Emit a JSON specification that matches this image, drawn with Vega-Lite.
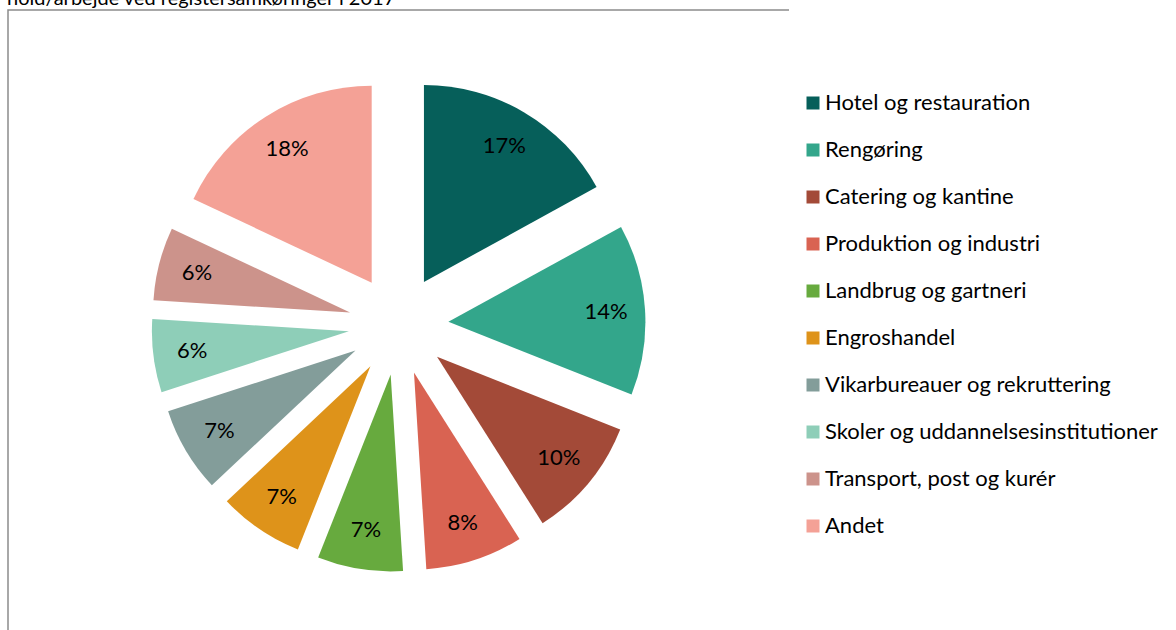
{
  "$schema": "https://vega.github.io/schema/vega-lite/v6.json",
  "width": 781,
  "height": 630,
  "autosize": {"type": "none"},
  "padding": {"left": 8, "top": 10, "right": 387, "bottom": 0},
  "background": "white",
  "view": {"stroke": "#8c8c8c", "strokeWidth": 1.5, "strokeDash": [781, 1411, 700]},
  "title": {
    "text": "hold/arbejde ved registersamkøringer i 2017",
    "anchor": "start",
    "frame": "group",
    "orient": "top",
    "offset": 1,
    "font": "Lato",
    "fontSize": 20,
    "fontWeight": "normal",
    "color": "#000000",
    "dx": -1
  },
  "config": {
    "font": "Lato"
  },
  "data": {
    "values": [
      {"sector": "Hotel og restauration", "share": 0.17, "rank": 1},
      {"sector": "Rengøring", "share": 0.14, "rank": 2},
      {"sector": "Catering og kantine", "share": 0.10, "rank": 3},
      {"sector": "Produktion og industri", "share": 0.08, "rank": 4},
      {"sector": "Landbrug og gartneri", "share": 0.07, "rank": 5},
      {"sector": "Engroshandel", "share": 0.07, "rank": 6},
      {"sector": "Vikarbureauer og rekruttering", "share": 0.07, "rank": 7},
      {"sector": "Skoler og uddannelsesinstitutioner", "share": 0.06, "rank": 8},
      {"sector": "Transport, post og kurér", "share": 0.06, "rank": 9},
      {"sector": "Andet", "share": 0.18, "rank": 10}
    ]
  },
  "encoding": {
    "theta": {"field": "share", "type": "quantitative", "stack": true},
    "order": {"field": "rank", "type": "quantitative"},
    "color": {
      "field": "sector",
      "type": "nominal",
      "scale": {
        "domain": ["Hotel og restauration", "Rengøring", "Catering og kantine", "Produktion og industri", "Landbrug og gartneri", "Engroshandel", "Vikarbureauer og rekruttering", "Skoler og uddannelsesinstitutioner", "Transport, post og kurér", "Andet"],
        "range": ["#065F5A", "#33A68B", "#A34A38", "#D96352", "#67AA3E", "#DE931A", "#839D9A", "#8ECEB8", "#CC938B", "#F4A196"]
      },
      "legend": {
        "title": null,
        "orient": "none",
        "legendX": 794,
        "legendY": 82,
        "symbolType": "square",
        "symbolSize": 169,
        "symbolStrokeWidth": 0,
        "symbolOpacity": 1,
        "labelFont": "Lato",
        "labelFontSize": 22,
        "labelColor": "#000000",
        "labelOffset": 1,
        "labelLimit": 400,
        "rowPadding": 25,
        "padding": 0
      }
    }
  },
  "layer": [
    {
      "mark": {
        "type": "arc",
        "outerRadius": 197,
        "xOffset": {"expr": "50*sin((scale('theta', datum.share_start)+scale('theta', datum.share_end))/2)"},
        "yOffset": {"expr": "-50*cos((scale('theta', datum.share_start)+scale('theta', datum.share_end))/2)"}
      }
    },
    {
      "mark": {
        "type": "text",
        "radius": 158,
        "font": "Lato",
        "fontSize": 22,
        "color": "#000000",
        "xOffset": {"expr": "50*sin((scale('theta', datum.share_start)+scale('theta', datum.share_end))/2)"},
        "yOffset": {"expr": "-50*cos((scale('theta', datum.share_start)+scale('theta', datum.share_end))/2)"}
      },
      "encoding": {
        "text": {"field": "share", "type": "quantitative", "format": ".0%"},
        "color": {"value": "#000000"}
      }
    }
  ]
}
